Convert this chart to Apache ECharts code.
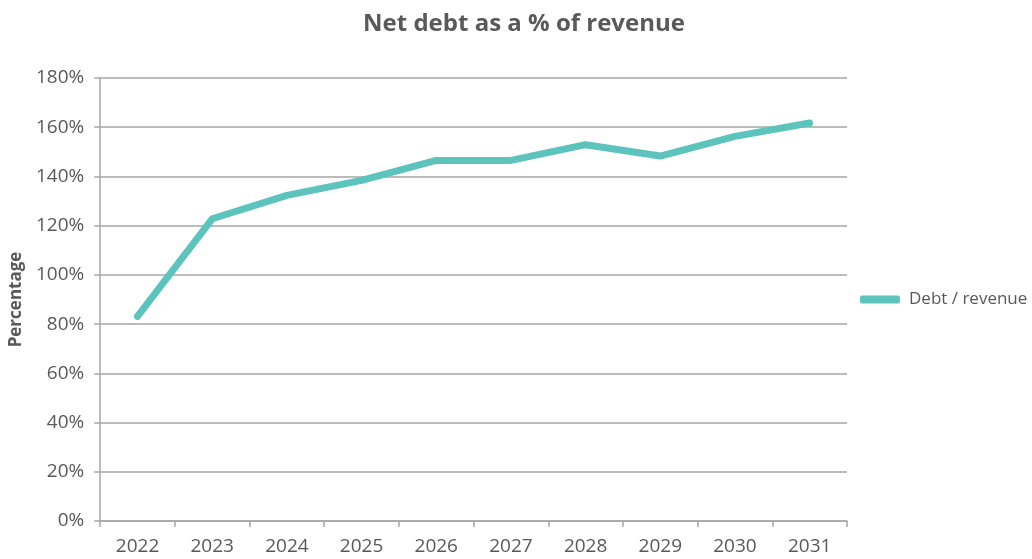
<!DOCTYPE html>
<html><head><meta charset="utf-8">
<script src="https://cdn.jsdelivr.net/npm/echarts@6/dist/echarts.min.js"></script>
<style>html,body{margin:0;padding:0;background:#fff}#c{width:1032px;height:559px}</style>
</head><body><div id="c"></div>
<script>
var years = ['2022','2023','2024','2025','2026','2027','2028','2029','2030','2031'];
var debtRevenue = [83.1, 122.8, 132.3, 138.4, 146.5, 146.5, 152.9, 148.3, 156.3, 161.7];
var seriesName = 'Debt / revenue';
var titleText = 'Net debt as a % of revenue';
var yAxisName = 'Percentage';

var chart = echarts.init(document.getElementById('c'), null, {renderer: 'canvas'});
var font = '"Open Sans", "Noto Sans", sans-serif';
chart.setOption({
  animation: false,
  textStyle: {fontFamily: font},
  title: {
    text: titleText, left: 519, top: 7, textAlign: 'center',
    textStyle: {fontFamily: font, fontSize: 24, fontWeight: 'bold', color: '#595959'}
  },
  legend: {
    orient: 'vertical', left: 855, top: 286,
    itemWidth: 40, itemHeight: 8, itemGap: 10,
    icon: 'roundRect',
    textStyle: {fontFamily: font, fontSize: 17, color: '#595959', padding: [0,0,0,4]},
    data: [{name: seriesName, itemStyle: {color: '#5CC4BC', borderRadius: 4}}]
  },
  grid: {left: 100, right: 185, top: 78, bottom: 38, containLabel: false},
  xAxis: {
    type: 'category', data: years, boundaryGap: true,
    axisLine: {lineStyle: {color: '#A6A6A6', width: 1.5}},
    axisTick: {show: true, length: 6, lineStyle: {color: '#A6A6A6', width: 1.5}},
    axisLabel: {fontFamily: font, fontSize: 19, color: '#595959', margin: 16}
  },
  yAxis: {
    type: 'value', min: 0, max: 180, interval: 20,
    name: yAxisName, nameLocation: 'middle', nameGap: 74, nameRotate: 90,
    nameTextStyle: {fontFamily: font, fontSize: 17, fontWeight: 'bold', color: '#595959'},
    axisLine: {show: true, lineStyle: {color: '#A6A6A6', width: 1.5}},
    axisTick: {show: true, length: 6, lineStyle: {color: '#A6A6A6', width: 1.5}},
    axisLabel: {fontFamily: font, fontSize: 19, color: '#595959', margin: 16, formatter: '{value}%'},
    splitLine: {show: true, lineStyle: {color: '#A6A6A6', width: 1.5}}
  },
  series: [{
    name: seriesName, type: 'line', data: debtRevenue,
    showSymbol: false, symbol: 'none',
    lineStyle: {color: '#5CC4BC', width: 7, cap: 'round', join: 'round'},
    itemStyle: {color: '#5CC4BC'}
  }]
});
</script>
</body></html>
